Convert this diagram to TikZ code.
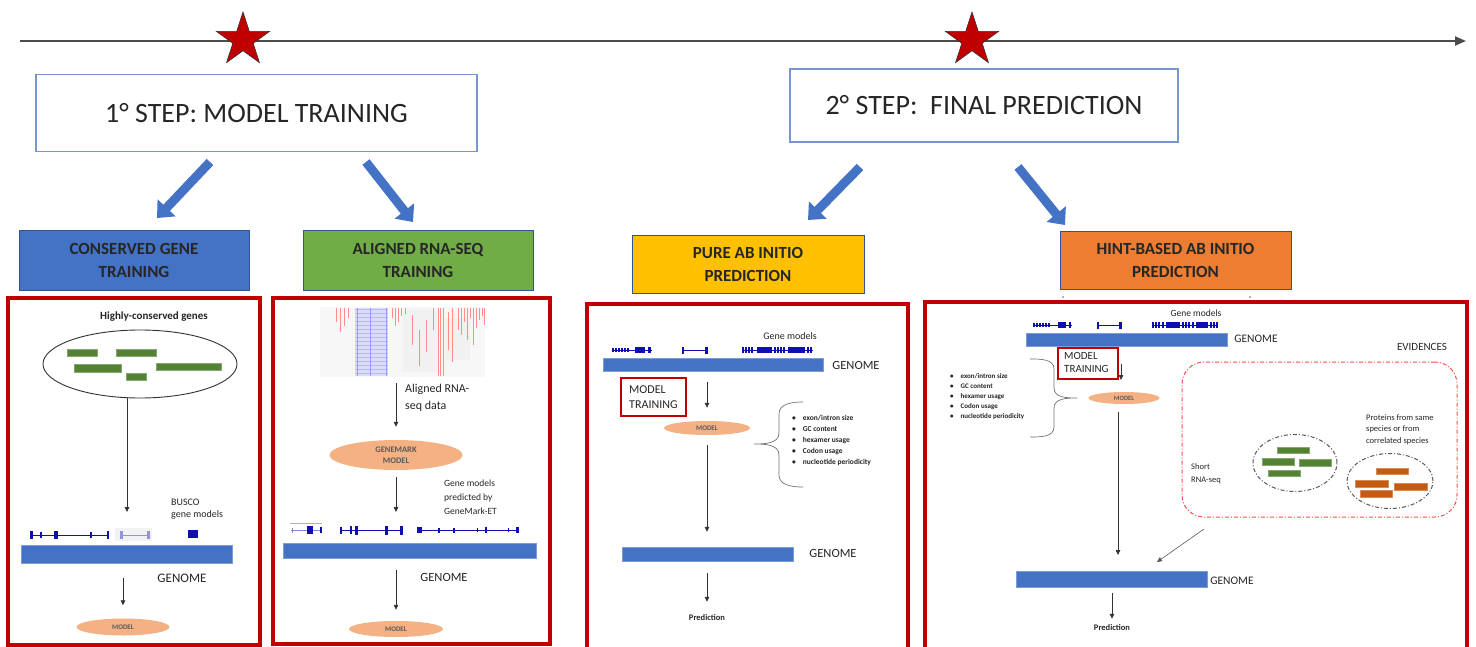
\documentclass[tikz,border=0pt]{standalone}
\usepackage{fontspec}
\setmainfont{Carlito}
\usetikzlibrary{shapes.geometric,arrows.meta,positioning,calc}
\definecolor{hblue}{RGB}{68,114,196}
\definecolor{hgreen}{RGB}{112,173,71}
\definecolor{hyellow}{RGB}{255,192,0}
\definecolor{horange}{RGB}{237,125,49}
\definecolor{dred}{RGB}{192,0,0}
\definecolor{salmon}{RGB}{244,177,131}
\definecolor{exblue}{RGB}{15,15,175}
\definecolor{ggreen}{RGB}{84,130,53}
\definecolor{porange}{RGB}{197,90,17}
\definecolor{txt}{RGB}{38,38,38}
\newcommand\fsz[2]{\fontsize{#1}{#2}\selectfont}
\newcommand\exonrow[2]{\foreach \a/\b/\h in {#2}{\fill[exon] (\a,#1-\h) rectangle (\b,#1+\h);}}

\begin{document}
\begin{tikzpicture}[x=1pt, y=-1pt,
	every node/.style={text=txt, inner sep=0pt},
	stepbox/.style={draw={rgb,255:red,120;green,150;blue,205}, line width=1.3pt, fill=white, font=\fsz{28}{34}},
	headbox/.style={draw={rgb,255:red,47;green,85;blue,151}, line width=1pt, font=\bfseries\fsz{17}{23}, align=center},
	redframe/.style={draw=dred, line width=3.5pt},
	bigarrow/.style={draw=hblue, line width=9pt, -{Triangle[length=14pt,width=24pt]}},
	arr/.style={draw=black!80, line width=0.8pt, -{Triangle[length=5pt,width=4.5pt]}},
	genome/.style={fill=hblue, draw=hblue!70!white, line width=0.4pt},
	model/.style={ellipse, fill=salmon, font=\bfseries\fsz{7}{8.5}, text=black!65, align=center},
	mtbox/.style={draw=dred, line width=1.8pt, minimum width=#1},
	exon/.style={fill=exblue},
	intron/.style={draw=exblue, line width=0.5pt},
	gbar/.style={fill=ggreen, draw=ggreen!70!white, line width=0.4pt},
	pbar/.style={fill=porange, draw=porange!70!white, line width=0.4pt},
	dashdot/.style={dash pattern=on 4pt off 2pt on 1pt off 2pt, line width=1pt},
	bulletlist/.style={font=\bfseries\fsz{7.5}{11}, align=left, anchor=north west}
	]
	\fill[white] (0,0) rectangle (1476,646); %背景
	\useasboundingbox (0,0) rectangle (1476,646);

%	時間軸と星
	\coordinate (tl0) at (20,41);
	\coordinate (tl1) at (1466,41);
	\draw[line width=2pt, black!70, -{Triangle[length=11pt,width=9pt]}] (tl0) -- (tl1); %時間軸
	\node[star, star points=5, star point ratio=2.618, minimum size=56pt, fill=dred, draw=black!80, line width=0.6pt] (star1) at (243,40) {};
	\node[star, star points=5, star point ratio=2.618, minimum size=56pt, fill=dred, draw=black!80, line width=0.6pt] (star2) at (972,40) {};

%	ステップの箱
	\node[stepbox, minimum width=441pt, minimum height=77pt] (step1) at (256.5,113) {1° STEP: MODEL TRAINING};
	\node[stepbox, minimum width=388pt, minimum height=73pt] (step2) at (984,105.5) {2° STEP:\ \ FINAL PREDICTION};

%	青い太矢印
	\coordinate (a1s) at (210,162); \coordinate (a1e) at (157,218);
	\coordinate (a2s) at (366,162); \coordinate (a2e) at (413,222);
	\coordinate (a3s) at (860,167); \coordinate (a3e) at (808,220);
	\coordinate (a4s) at (1018,167); \coordinate (a4e) at (1065,225);
	\draw[bigarrow] (a1s) -- (a1e);
	\draw[bigarrow] (a2s) -- (a2e);
	\draw[bigarrow] (a3s) -- (a3e);
	\draw[bigarrow] (a4s) -- (a4e);

%	色付きの見出し
	\node[headbox, fill=hblue, minimum width=230pt, minimum height=60pt] (cons) at (134,260) {CONSERVED GENE\\TRAINING};
	\node[headbox, fill=hgreen, minimum width=230pt, minimum height=60pt] (alig) at (418,260) {ALIGNED RNA-SEQ\\TRAINING};
	\node[headbox, fill=hyellow, minimum width=232pt, minimum height=58pt] (pure) at (748,264) {PURE AB INITIO\\PREDICTION};
	\node[headbox, fill=horange, minimum width=231pt, minimum height=58pt] (hint) at (1175.5,260) {HINT-BASED AB INITIO\\PREDICTION};
	\fill[black!60] (1063,297) circle (0.8) (1250,297) circle (0.8); %小さな点

%	赤い枠
	\draw[redframe] (8,298) rectangle (260,645);
	\draw[redframe] (273,298) rectangle (550,644);
	\draw[redframe] (587,655) -- (587,304) -- (908,304) -- (908,655);
	\draw[redframe] (925,655) -- (925,302) -- (1467,302) -- (1467,655);

%	枠1: conserved gene
	\node[font=\bfseries\fsz{11}{13}] (hcg) at (154,317) {Highly-conserved genes};
	\node[ellipse, draw=black!80, line width=0.9pt, minimum width=194pt, minimum height=68pt] (hcell) at (140,364) {};
	\draw[gbar] (67,349) rectangle (97,356) (116,349) rectangle (156,356) (74,364) rectangle (121,372) (156,363) rectangle (221,370) (126,373) rectangle (146,380);
	\coordinate (r1a) at (127,512);
	\draw[arr] (hcell.south -| r1a) -- (r1a);
	\node[anchor=west, align=left, font=\fsz{10}{12.5}] (busco) at (171,509) {BUSCO\\gene models};
	\draw[intron] (30,535) -- (109,535);
	\exonrow{535}{30/33/4, 40/42/3, 54/58/4, 90/92/3, 107/109/4}
	\fill[gray!10] (115,528) rectangle (152,541);
	\draw[intron, exblue!45] (121,535) -- (149,535);
	\foreach \a/\b in {120/123, 147/150} \fill[exblue!45] (\a,531) rectangle (\b,539);
	\fill[exblue] (188,530) rectangle (198,538);
	\node[genome, minimum width=211pt, minimum height=18pt] (g1) at (126.5,554) {};
	\node[font=\fsz{13}{15}] (g1lab) at (182,578) {GENOME};
	\node[model, minimum width=93pt, minimum height=17pt] (m1) at (123,627) {MODEL};
	\draw[arr, shorten <=15pt, shorten >=13pt] (g1.south -| m1.north) -- (m1.north);

%	枠2: aligned RNA-seq
	\node[fill=gray!6, minimum width=165pt, minimum height=70pt] (rnaimg) at (402.5,342) {};
	\fill[blue!14] (355,308) rectangle (388,376);
	\foreach \y in {309,313,...,375} \draw[blue!28, line width=0.4pt] (355,\y) -- (388,\y);
	\draw[blue!40, line width=0.4pt] (357,308) -- (357,376) (370,308) -- (370,376) (386,308) -- (386,376);
	\fill[gray!11] (403,310) rectangle (437,372) (445,318) rectangle (470,360);
	\foreach \x/\t/\b in {336/308/322, 340/308/332, 344/308/326, 348/308/318, 392/308/318, 395/308/326, 398/308/322, 401/308/316, 405/308/314, 412/315/345, 419/330/366, 426/320/352, 433/308/330, 438/308/376, 440/308/376, 443/308/376, 448/312/350, 452/308/362, 458/308/330, 461/308/335, 464/308/322, 467/308/340, 470/308/318, 473/308/345, 476/308/328, 479/308/320, 482/308/316, 484/308/325}
		\draw[red!45, line width=0.35pt] (\x,\t) -- (\x,\b);
	\node[model, minimum width=133pt, minimum height=30pt, font=\bfseries\fsz{8.5}{11}] (gm) at (396,455) {GENEMARK\\MODEL};
	\draw[arr, shorten <=6pt, shorten >=13pt] (rnaimg.south -| gm.north) -- (gm.north);
	\node[anchor=west, align=left, font=\fsz{12}{16.5}] (alab) at (405,398) {Aligned RNA-\\seq data};
	\coordinate (r2a) at (396,512);
	\draw[arr, shorten <=7pt] (gm.south) -- (r2a);
	\node[anchor=west, align=left, font=\fsz{9.5}{14}] (gmlab) at (444,497) {Gene models\\predicted by\\GeneMark-ET};
	\draw[intron, exblue!50] (291,530) -- (322,530);
	\draw[gray!60, line width=0.6pt] (290,523) -- (322,523);
	\exonrow{530}{307/313/4, 320/321.5/3}
	\fill[exblue!50] (291.5,527.5) rectangle (293,532.5);
	\draw[intron] (340,530) -- (403,530) (417,530) -- (519,530);
	\exonrow{530}{340/342/3.5, 350/352/4, 355/358/4.5, 385/388/4.5, 400/403/4.5, 417/422/3, 438/440/2.5, 453/454.5/2.5, 477/478/2, 485/487/3, 508/509/2, 516/519/3}
	\node[genome, minimum width=253pt, minimum height=15pt] (g2) at (409.5,550.5) {};
	\node[font=\fsz{12.5}{15}] (g2lab) at (444,577) {GENOME};
	\node[model, minimum width=94pt, minimum height=16pt] (m2) at (396,629) {MODEL};
	\draw[arr, shorten <=12pt, shorten >=11pt] (g2.south -| m2.north) -- (m2.north);

%	枠3: pure ab initio
	\node[font=\fsz{10}{12}] (gmod3) at (790,336) {Gene models};
	\draw[intron] (612,350) -- (652,350) (682,350) -- (708,350) (742,350) -- (813,350);
	\exonrow{350}{612/613.5/2, 615/616.5/2, 618/619.5/2, 621/622.5/2, 624/625.5/2, 627/628.5/2, 635/645/3, 648/651/3, 682/684/3.5, 705/708/3.5, 742/743.5/3, 745/746.5/3, 748/749.5/3, 751/752.5/3, 757/772/3.2, 774/775.5/3, 777/778.5/3, 780/781.5/3, 783/784.5/3, 788/805/3.2, 807/808.5/3, 810/811.5/3}
	\node[genome, minimum width=220pt, minimum height=13pt] (g3) at (713,364.5) {};
	\node[font=\fsz{12.5}{15}] (g3lab) at (856,365) {GENOME};
	\node[mtbox=65pt, minimum height=38pt] (mt3) at (653.5,397) {};
	\node[anchor=west, align=left, font=\fsz{12}{15}] (mt3lab) at (629,397.5) {MODEL\\TRAINING};
	\node[model, minimum width=86pt, minimum height=14pt] (m3) at (707,428) {MODEL};
	\draw[arr, shorten <=11pt, shorten >=13pt] (g3.south -| m3.north) -- (m3.north);
	\draw[black!55, line width=0.7pt] (803,402) to[out=180,in=90] (779,414) -- (779,433) to[out=270,in=0] (754,444) to[out=0,in=90] (779,455) -- (779,475) to[out=270,in=180] (803,487); %括弧
	\node[bulletlist] (feat3) at (792,415) {\textbullet\hspace{7pt}exon/intron size\\\textbullet\hspace{7pt}GC content\\\textbullet\hspace{7pt}hexamer usage\\\textbullet\hspace{7pt}Codon usage\\\textbullet\hspace{7pt}nucleotide periodicity};
	\node[genome, minimum width=171pt, minimum height=14pt] (g3b) at (707.5,554) {};
	\draw[arr, shorten <=10pt, shorten >=15pt] (m3.south) -- (g3b.north -| m3.south);
	\node[font=\fsz{12.5}{15}] (g3blab) at (833,553) {GENOME};
	\node[font=\bfseries\fsz{8.5}{10}] (pred3) at (707,618) {Prediction};
	\draw[arr, shorten <=12pt, shorten >=13pt] (g3b.south -| pred3.north) -- (pred3.north);

%	枠4: hint-based ab initio
	\node[font=\fsz{9.5}{11}] (gmod4) at (1196,313) {Gene models};
	\draw[intron] (1033,325) -- (1072,325) (1097,325) -- (1122,325) (1152,325) -- (1218,325);
	\exonrow{325}{1033/1034.5/2, 1036/1037.5/2, 1039/1040.5/2, 1042/1043.5/2, 1045/1046.5/2, 1048/1049.5/2, 1058/1066/3, 1069/1071/3, 1097/1099/3.5, 1119/1122/3.5, 1152/1153.5/3, 1155/1156.5/3, 1158/1159.5/3, 1162/1163.5/3, 1166/1180/3.2, 1182/1183.5/3, 1185/1186.5/3, 1188/1189.5/3, 1192/1193.5/3, 1196/1208/3.2, 1210/1211.5/3, 1213/1214.5/3, 1216/1217.5/3}
	\node[genome, minimum width=201pt, minimum height=13pt] (g4) at (1126.5,339.5) {};
	\node[font=\fsz{11.5}{14}] (g4lab) at (1256,339) {GENOME};
	\node[font=\fsz{11}{13}] (evlab) at (1422,347) {EVIDENCES};
	\node[mtbox=60pt, minimum height=31pt] (mt4) at (1088,363.5) {};
	\node[anchor=west, align=left, font=\fsz{11}{13}] (mt4lab) at (1064,362) {MODEL\\TRAINING};
	\coordinate (t4) at (1121,380);
	\draw[arr] (t4 |- mt4.east) -- (t4);
	\node[model, minimum width=71pt, minimum height=12pt, font=\bfseries\fsz{6.5}{8}] (m4) at (1124,398) {MODEL};
	\draw[black!55, line width=0.7pt] (1030,359) to[out=0,in=90] (1054,369) -- (1054,388) to[out=270,in=180] (1077,398) to[out=180,in=90] (1054,408) -- (1054,427) to[out=270,in=0] (1030,437); %括弧
	\node[bulletlist, font=\bfseries\fsz{7}{10.2}] (feat4) at (950,373) {\textbullet\hspace{7pt}exon/intron size\\\textbullet\hspace{7pt}GC content\\\textbullet\hspace{7pt}hexamer usage\\\textbullet\hspace{7pt}Codon usage\\\textbullet\hspace{7pt}nucleotide periodicity};
	\node[draw=red!70, dashdot, rounded corners=22pt, minimum width=275pt, minimum height=155pt] (evid) at (1319.5,439.5) {};
	\node[anchor=west, align=left, font=\fsz{8.5}{13}] (srna) at (1191,473.5) {Short\\RNA-seq};
	\node[ellipse, draw=black!65, dashdot, minimum width=84pt, minimum height=57pt] (rnaell) at (1295,463) {};
	\draw[gbar] (1277,447) rectangle (1309,453) (1262,458) rectangle (1294,465) (1299,459) rectangle (1331,466) (1268,470) rectangle (1300,476);
	\node[ellipse, draw=black!65, dashdot, minimum width=86pt, minimum height=55pt] (protell) at (1390,481) {};
	\draw[pbar] (1376,468) rectangle (1408,474) (1355,480) rectangle (1388,487) (1394,483) rectangle (1427,490) (1360,490) rectangle (1392,497);
	\node[anchor=north west, align=left, font=\fsz{8.5}{11.5}] (prot) at (1366,414) {Proteins from same\\species or from\\correlated species};
	\node[genome, minimum width=191pt, minimum height=16pt] (g4b) at (1111.5,579) {};
	\node[font=\fsz{11.5}{14}] (g4blab) at (1232,581) {GENOME};
	\coordinate (t5) at (1118,555);
	\draw[arr, shorten <=8pt] (m4.south -| t5) -- (t5);
	\coordinate (d0) at (1204,529);
	\coordinate (d1) at (1157,562);
	\draw[arr, black!65, line width=0.6pt] (d0) -- (d1);
	\node[font=\bfseries\fsz{8.5}{10}] (pred4) at (1112,628) {Prediction};
	\draw[arr, shorten <=6pt, shorten >=6pt] (g4b.south -| pred4.north) -- (pred4.north);
\end{tikzpicture}
\end{document}
